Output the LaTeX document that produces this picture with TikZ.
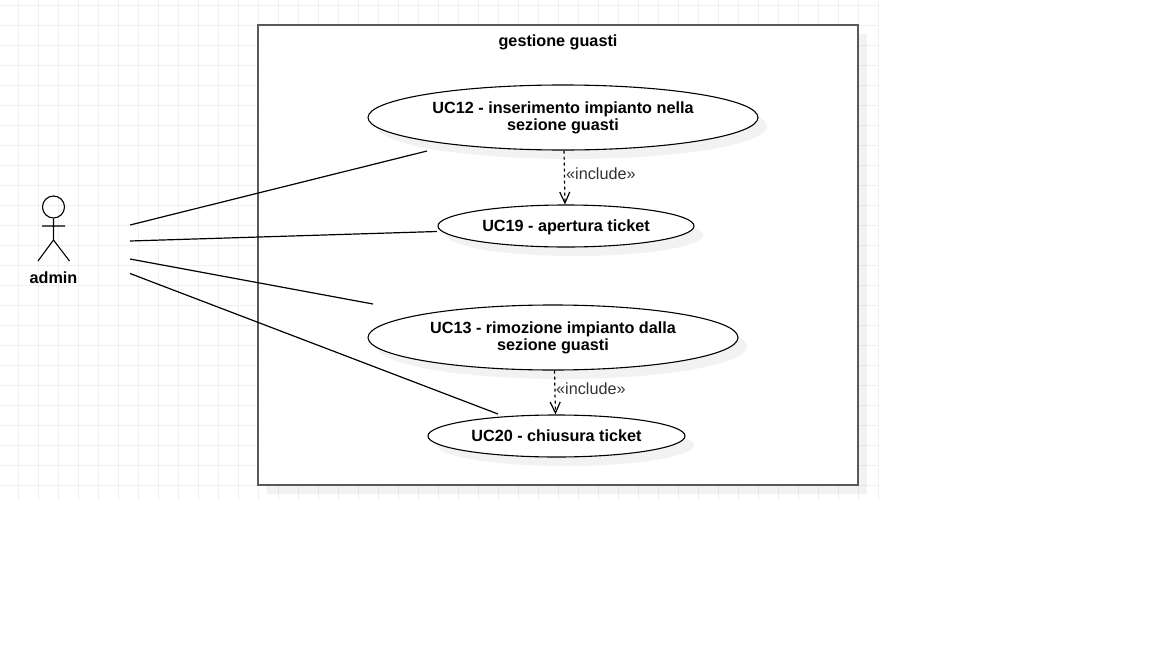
\documentclass[tikz,border=0pt]{standalone}
\usepackage{fontspec}
\setmainfont{Liberation Sans}
\usetikzlibrary{arrows.meta, positioning, shapes.geometric, shadows}

\begin{document}
\begin{tikzpicture}[
        x=1pt, y=-1pt,
        usecase/.style={draw, ellipse, fill=white, inner sep=0pt, line width=1.1pt, align=center,
        font=\fontsize{16.2}{17}\selectfont\bfseries,
        drop shadow={shadow xshift=9pt, shadow yshift=-9pt, fill=black, opacity=0.05}},
        lowered/.style={execute at begin node={\rule{0pt}{13.5pt}}},
        twoline/.style={execute at begin node={\vspace*{2pt}}},
        system/.style={draw=black!65, fill=white, line width=2pt, minimum width=600pt, minimum height=460pt,
        drop shadow={shadow xshift=9pt, shadow yshift=-9pt, fill=black, opacity=0.05}},
        assoc/.style={line width=1.2pt},
        incl/.style={dashed, line width=1.2pt, -{Straight Barb[length=11pt, width=10pt]}},
        lbl/.style={text=black!80, font=\fontsize{16.2}{17}\selectfont, inner sep=0pt}
      ]
      \useasboundingbox (0,0) rectangle (1152,648);
      \fill[white] (0,0) rectangle (1152,648);
      % paper grid behind the diagram
      \foreach \gx in {0,...,43} {
        \draw[black!6, line width=1pt] (18.5+20*\gx,0) -- (18.5+20*\gx,500);
      }
      \foreach \gy in {0,...,24} {
        \draw[black!6, line width=1pt] (0,5.5+20*\gy) -- (878.5,5.5+20*\gy);
      }

      \node[system] (sys) at (558,255) {};
      \node[font=\fontsize{16.2}{17}\selectfont\bfseries, inner sep=0pt] (title) at (558,42) {gestione guasti};

      \node[usecase, twoline, minimum width=390pt, minimum height=65pt] (uc12) at (563,117.5) {UC12 - inserimento impianto nella\\sezione guasti};
      \node[usecase, lowered, minimum width=256pt, minimum height=42pt] (uc19) at (566,226) {UC19 - apertura ticket};
      \node[usecase, twoline, minimum width=370pt, minimum height=65pt] (uc13) at (553,337.5) {UC13 - rimozione impianto dalla\\sezione guasti};
      \node[usecase, minimum width=257pt, minimum height=42pt] (uc20) at (556.5,436) {UC20 - chiusura ticket};

      % actor
      \node[draw, circle, line width=1.1pt, minimum size=22pt, inner sep=0pt] (head) at (53.5,207) {};
      \coordinate (hip) at (53.5,240);
      \coordinate (armL) at (42,226);
      \coordinate (armR) at (65,226);
      \coordinate (footL) at (38,261);
      \coordinate (footR) at (69.5,261);
      \draw[line width=1.1pt] (head.south) -- (hip) -- (footL) (hip) -- (footR) (armL) -- (armR);
      \node[font=\fontsize{16.2}{17}\selectfont\bfseries, inner sep=0pt] (admin) at (53.5,277.5) {admin};

      % free ends of the associations
      \coordinate (a1) at (130,225);
      \coordinate (a2) at (130,241);
      \coordinate (a3) at (130,259);
      \coordinate (a4) at (130,273.5);
      \coordinate (e1) at (427,151);
      \coordinate (e2) at (437,231.5);
      \coordinate (e3) at (373,304);
      \coordinate (e4) at (498,414);
      \draw[assoc] (a1) -- (e1);
      \draw[assoc] (a2) -- (e2);
      \draw[assoc] (a3) -- (e3);
      \draw[assoc] (a4) -- (e4);

      \draw[incl] (uc12.south -| 564,0) -- (uc19.north -| 565,0);
      \draw[incl] (uc13.south -| 554.5,0) -- (uc20.north -| 555.5,0);
      \node[lbl, anchor=west] (inc1) at (566,174) {«include»};
      \node[lbl, anchor=west] (inc2) at (556,389) {«include»};
    \end{tikzpicture}
\end{document}
